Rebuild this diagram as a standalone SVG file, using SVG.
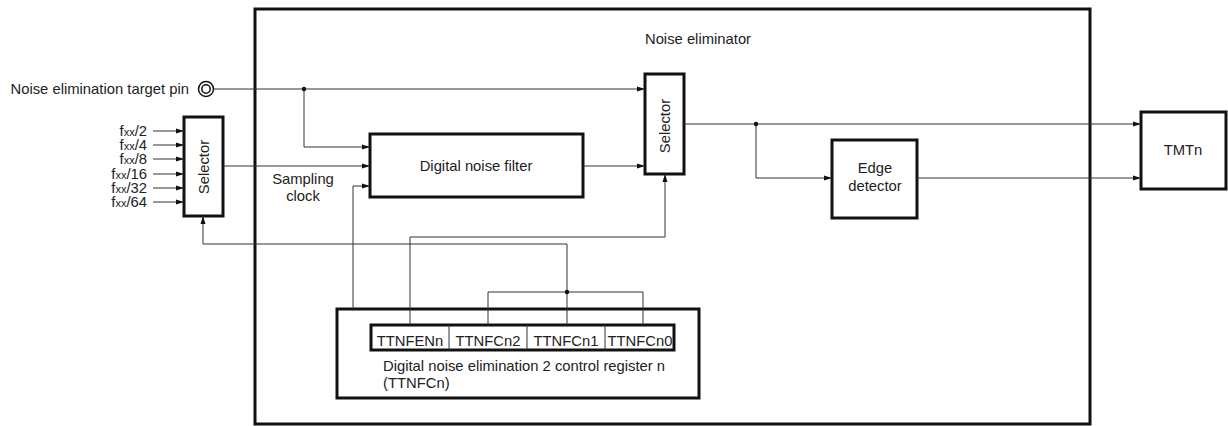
<svg xmlns="http://www.w3.org/2000/svg" width="1228" height="426" viewBox="0 0 1228 426">
<style>
text{font-family:"Liberation Sans",Arial,sans-serif;font-size:14.8px;fill:#222}
.box{fill:#fff;stroke:#111;stroke-width:3}
.ln{fill:none;stroke:#333;stroke-width:1}
.mid{text-anchor:middle}
.sub{font-size:11px}
</style>
<defs>
<marker id="ah" markerUnits="userSpaceOnUse" markerWidth="9" markerHeight="6" refX="8" refY="3" orient="auto">
<path d="M0,0.5 L8,3 L0,5.5 Z" fill="#111"/>
</marker>
</defs>
<g id="outer"><rect x="255" y="9" width="835" height="415" fill="none" stroke="#111" stroke-width="3"/>
<text x="698" y="44" class="mid">Noise eliminator</text></g>
<g id="pin">
<text x="189" y="94" text-anchor="end">Noise elimination target pin</text>
<circle cx="206" cy="89" r="7.5" fill="#fff" stroke="#111" stroke-width="1.5"/>
<circle cx="206" cy="89" r="4.2" fill="#fff" stroke="#111" stroke-width="1.5"/>
</g>
<g id="clk-labels">
<text x="147" y="136" text-anchor="end">f<tspan class="sub">xx</tspan>/2</text>
<text x="147" y="150" text-anchor="end">f<tspan class="sub">xx</tspan>/4</text>
<text x="147" y="164" text-anchor="end">f<tspan class="sub">xx</tspan>/8</text>
<text x="147" y="179" text-anchor="end">f<tspan class="sub">xx</tspan>/16</text>
<text x="147" y="193" text-anchor="end">f<tspan class="sub">xx</tspan>/32</text>
<text x="147" y="207" text-anchor="end">f<tspan class="sub">xx</tspan>/64</text>
</g>
<g id="selector1"><rect class="box" x="184" y="117" width="39" height="99"/>
<text class="mid" transform="translate(209,167) rotate(-90)">Selector</text></g>
<g id="filter"><rect class="box" x="370" y="134" width="213" height="63"/>
<text class="mid" x="476" y="171">Digital noise filter</text></g>
<g id="selector2"><rect class="box" x="645" y="74" width="39" height="100"/>
<text class="mid" transform="translate(670,126) rotate(-90)">Selector</text></g>
<g id="edge"><rect class="box" x="832" y="140" width="85" height="78"/>
<text class="mid" x="875" y="173">Edge</text><text class="mid" x="875" y="191">detector</text></g>
<g id="tmtn"><rect class="box" x="1141" y="112" width="85" height="77"/>
<text class="mid" x="1183" y="155">TMTn</text></g>
<g id="register"><rect class="box" x="337" y="309" width="362" height="89"/>
<rect x="371" y="325" width="303" height="25" fill="#fff" stroke="#111" stroke-width="3"/>
<path class="ln" d="M449,325V350M527,325V350M605,325V350"/>
<text class="mid" x="410" y="346">TTNFENn</text>
<text class="mid" x="488" y="346">TTNFCn2</text>
<text class="mid" x="566" y="346">TTNFCn1</text>
<text class="mid" x="640" y="346">TTNFCn0</text>
<text x="383" y="371">Digital noise elimination 2 control register n</text>
<text x="383" y="388">(TTNFCn)</text></g>
<text class="mid" x="303" y="184">Sampling</text>
<text class="mid" x="303" y="201">clock</text>
<g id="connectors" class="ln">
<path class="ln" d="M153,131H184" marker-end="url(#ah)"/>
<path class="ln" d="M153,145H184" marker-end="url(#ah)"/>
<path class="ln" d="M153,159H184" marker-end="url(#ah)"/>
<path class="ln" d="M153,174H184" marker-end="url(#ah)"/>
<path class="ln" d="M153,188H184" marker-end="url(#ah)"/>
<path class="ln" d="M153,202H184" marker-end="url(#ah)"/>
<path class="ln" d="M213.5,89H645" marker-end="url(#ah)"/>
<path class="ln" d="M304,89V147H370" marker-end="url(#ah)"/>
<path class="ln" d="M223,166H370" marker-end="url(#ah)"/>
<path class="ln" d="M353,309V186H370" marker-end="url(#ah)"/>
<path class="ln" d="M583,166H645" marker-end="url(#ah)"/>
<path class="ln" d="M410,325V237H665V174" marker-end="url(#ah)"/>
<path class="ln" d="M567,325V244H203V216" marker-end="url(#ah)"/>
<path class="ln" d="M488,325V292H643V325"/>
<path class="ln" d="M684,124H1141" marker-end="url(#ah)"/>
<path class="ln" d="M756,124V178H832" marker-end="url(#ah)"/>
<path class="ln" d="M917,178H1141" marker-end="url(#ah)"/>
</g>
<g id="junctions" fill="#111">
<circle cx="304" cy="89" r="2.2"/>
<circle cx="567" cy="292" r="2.2"/>
<circle cx="756" cy="124" r="2.2"/>
</g>
</svg>
